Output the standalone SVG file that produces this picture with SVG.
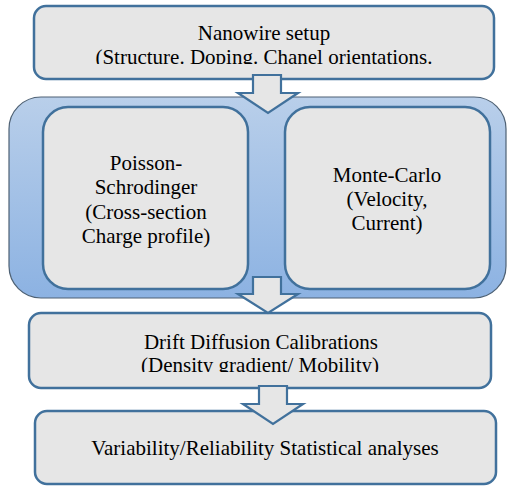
<svg xmlns="http://www.w3.org/2000/svg" width="507" height="487" viewBox="0 0 507 487">
  <defs>
    <linearGradient id="cg" x1="0" y1="0" x2="0" y2="1">
      <stop offset="0" stop-color="#b9cfea"/>
      <stop offset="1" stop-color="#8cb2e2"/>
    </linearGradient>
    <clipPath id="clipTop"><rect x="34" y="6" width="460" height="58"/></clipPath>
    <clipPath id="clipDrift"><rect x="29" y="313" width="462" height="59"/></clipPath>
    <style>
      .box { fill: #e6e6e6; stroke: #41719c; stroke-width: 2.5; }
      .arrow { fill: #e6e6e6; stroke: #41719c; stroke-width: 2.2; stroke-linejoin: miter; }
      .container { fill: url(#cg); stroke: #4e6174; stroke-width: 1.2; }
      text { font-family: "Liberation Serif", "Times New Roman", serif; font-size: 21px; fill: #000; text-anchor: middle; }
    </style>
  </defs>
  <rect width="507" height="487" fill="#ffffff"/>

  <g id="node-nanowire">
    <rect class="box" x="34" y="6" width="460" height="73" rx="12"/>
    <text x="264" y="40">Nanowire setup</text>
    <text x="264" y="64" clip-path="url(#clipTop)">(Structure. Doping. Chanel orientations.</text>
  </g>

  <g id="node-container">
    <rect class="container" x="9" y="97" width="497" height="201" rx="32"/>
  </g>

  <g id="node-poisson">
    <rect class="box" x="43" y="107" width="205" height="182" rx="25"/>
    <text x="146" y="170">Poisson-</text>
    <text x="146" y="194">Schrodinger</text>
    <text x="146" y="218.5">(Cross-section</text>
    <text x="146" y="243">Charge profile)</text>
  </g>

  <g id="node-montecarlo">
    <rect class="box" x="285" y="107" width="205" height="182" rx="25"/>
    <text x="387" y="182">Monte-Carlo</text>
    <text x="387" y="206">(Velocity,</text>
    <text x="387" y="230">Current)</text>
  </g>

  <g id="node-drift">
    <rect class="box" x="29" y="313" width="462" height="75" rx="12"/>
    <text x="261" y="349">Drift Diffusion Calibrations</text>
    <text x="260" y="372" clip-path="url(#clipDrift)">(Density gradient/ Mobility)</text>
  </g>

  <g id="node-variability">
    <rect class="box" x="35" y="411" width="461" height="73" rx="12"/>
    <text x="265" y="455">Variability/Reliability Statistical analyses</text>
  </g>

  <g id="connectors">
    <polygon class="arrow" points="253,75 281,75 281,93 298,93 268,113 238,93 253,93"/>
    <polygon class="arrow" points="253,277 281,277 281,294 298,294 268,313 238,294 253,294"/>
    <polygon class="arrow" points="259,386 287,386 287,404 303,404 273,424 243,404 259,404"/>
  </g>
</svg>
